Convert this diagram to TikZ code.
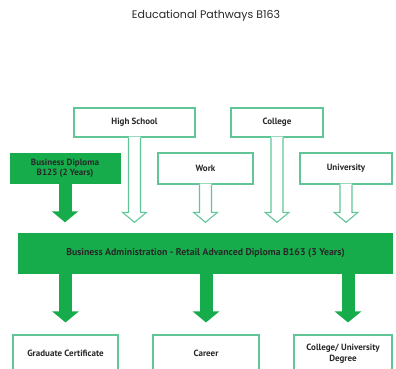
\documentclass[tikz,border=0pt]{standalone}
\usepackage{fontspec}
\setmainfont{PT Sans}
\newfontfamily\titlefont{Poppins}
\usetikzlibrary{arrows.meta,calc}
\definecolor{pathgreen}{RGB}{22,172,76}
\definecolor{pathline}{RGB}{96,198,152}
\definecolor{pathtext}{RGB}{40,40,40}
% hollow block arrow from the bottom of #1 down to just above #2
\newcommand{\hollowarrow}[2]{%
  \fill[white] ($(#1.south)+(-6,-1)$) -- ($(#1.south |- #2.north)+(-6,-20)$)
    -- ++(-6,0) -- ($(#1.south |- #2.north)+(0,-10)$) -- ++(12,-10)
    -- ++(-6,0) -- ($(#1.south)+(6,-1)$) -- cycle;
  \draw[hollow] ($(#1.south)+(-6,0)$) -- ($(#1.south |- #2.north)+(-6,-20)$)
    -- ++(-6,0) -- ($(#1.south |- #2.north)+(0,-10)$) -- ++(12,-10)
    -- ++(-6,0) -- ($(#1.south)+(6,0)$);
}

\begin{document}
\begin{tikzpicture}[
  x=1pt, y=-1pt,
  font=\fontsize{9}{10.5}\selectfont\bfseries,
  text=pathtext,
  box/.style={draw=pathline, line width=1.1pt, fill=white, align=center, inner sep=2pt},
  solid box/.style={fill=pathgreen, align=center, inner sep=2pt},
  hollow/.style={draw=pathline, line width=1.1pt, line join=miter},
  fat/.style={draw=pathgreen, line width=13pt, -{Triangle[width=26pt,length=11pt]}}
]
  \useasboundingbox (0,0) rectangle (396,369);
  \clip (0,0) rectangle (396,369);
  \node[font=\titlefont\fontsize{11}{13}\selectfont] (title) at (206,16) {Educational Pathways B163};

  \node[box, minimum width=121pt, minimum height=29pt] (hs) at (134.5,122.5) {High School};
  \node[box, minimum width=92pt, minimum height=29pt] (col) at (277,122.5) {College};
  \node[box, minimum width=95pt, minimum height=31pt] (work) at (205.5,168.5) {Work};
  \node[box, minimum width=92pt, minimum height=31pt] (uni) at (346,168.5) {University};
  \node[solid box, minimum width=111pt, minimum height=31pt] (bd) at (65,168.5) {Business Diploma\\B125 (2 Years)};
  \node[solid box, minimum width=375pt, minimum height=41pt, font=\fontsize{9.8}{11}\selectfont\bfseries] (bar) at (205.5,253)
    {Business Administration - Retail Advanced Diploma B163 (3 Years)};

  \node[box, minimum width=105pt, minimum height=37pt] (grad) at (65.5,353.5) {Graduate Certificate};
  \node[box, minimum width=106pt, minimum height=37pt] (career) at (206,353.5) {Career};
  \node[box, minimum width=98pt, minimum height=37pt] (degree) at (343,353.5) {College/ University\\Degree};

  \hollowarrow{hs}{bar}
  \hollowarrow{work}{bar}
  \hollowarrow{col}{bar}
  \hollowarrow{uni}{bar}

  \draw[fat] ($(bd.south)+(0,-1)$) -- ($(bd.south |- bar.north)+(0,-10)$);
  \draw[fat] ($(bar.south -| grad.north)+(0,-1)$) -- ($(grad.north)+(0,-12)$);
  \draw[fat] ($(bar.south -| career.north)+(0,-1)$) -- ($(career.north)+(0,-12)$);
  \draw[fat] ($(bar.south -| degree.north)+(5,-1)$) -- ($(degree.north)+(5,-12)$);
\end{tikzpicture}
\end{document}
